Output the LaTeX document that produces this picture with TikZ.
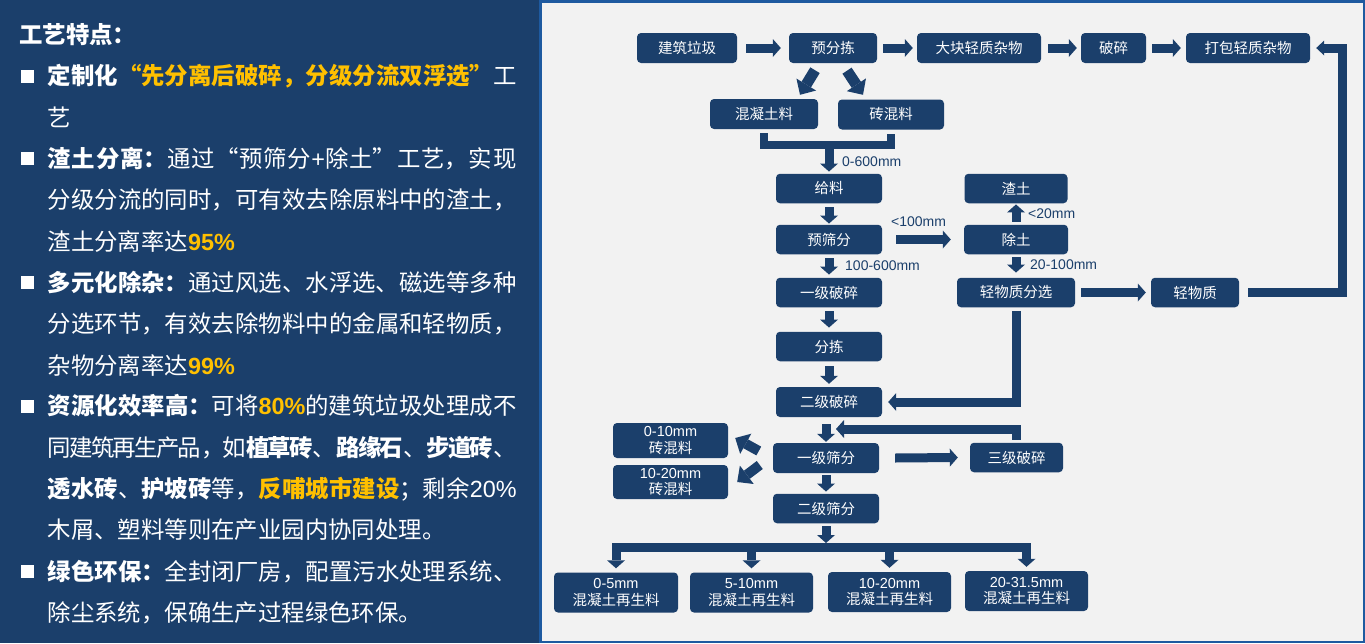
\documentclass[tikz,border=0pt]{standalone}
\usepackage{fontspec}
\setmainfont{Liberation Sans}
\newfontfamily\zh{Noto Sans CJK SC}
\usetikzlibrary{arrows.meta}
\definecolor{navy}{HTML}{1B3F6B}
\definecolor{panel}{HTML}{F2F2F2}
\definecolor{edge}{HTML}{1E5AA0}
\definecolor{gold}{HTML}{FFC000}
\newcommand\latn[1]{{\rmfamily #1}}
\XeTeXlinebreaklocale "zh"
\XeTeXlinebreakskip=0pt plus 4pt minus 2pt

\tikzset{
  box/.style={rectangle, rounded corners=4pt, fill=navy, text=white, inner sep=0pt,
    align=center, minimum height=29.5pt, font=\zh\fontsize{14.5}{16.5}\selectfont},
  lbl/.style={text=navy, inner sep=0pt, font=\fontsize{14}{16}\selectfont},
  para/.style={text=white, text width=469pt, align=justify, inner sep=0pt,
    anchor=base west, font=\zh\fontsize{23.4}{41.3}\selectfont},
  sq/.style={rectangle, fill=white, minimum size=13pt, inner sep=0pt},
  bar/.style={draw=navy, line width=9pt},
  blk/.style={bar, -{Triangle[length=8pt,width=18pt,line width=0pt]}},
  ret/.style={bar, -{Triangle[length=8pt,width=15pt,line width=0pt]}},
  dia/.style={draw=navy, line width=11pt, -{Triangle[length=12pt,width=23pt,line width=0pt]}}
}

\begin{document}
\begin{tikzpicture}[x=1pt,y=-1pt]
  \useasboundingbox (0,0) rectangle (1365,643);
  % panels
  \fill[navy] (0,0) rectangle (540,643);
  \filldraw[fill=panel, draw=edge, line width=2.5pt] (540.25,1.25) rectangle (1363.75,641.75);

  % left text
  \node[text=white, anchor=base west, inner sep=0pt, font=\zh\bfseries\fontsize{23.4}{28}\selectfont] (title) at (19,43.9) {工艺特点：};
  \node[sq] (b1) at (27.5,76) {};
  \node[sq] (b2) at (27.5,158.5) {};
  \node[sq] (b3) at (27.5,282.5) {};
  \node[sq] (b4) at (27.5,406) {};
  \node[sq] (b5) at (27.5,571) {};
  \node[para] (p1) at (47.5,84.9) {{\bfseries 定制化}{\color{gold}\bfseries “先分离后破碎，分级分流双浮选”}工\linebreak 艺};
  \node[para] (p2) at (47.5,167.5) {{\bfseries 渣土分离：}通过“预筛分\latn{+}除土”工艺，实现\linebreak 分级分流的同时，可有效去除原料中的渣土，\linebreak 渣土分离率达{\color{gold}\bfseries\latn{95\%}}};
  \node[para] (p3) at (47.5,291.4) {{\bfseries 多元化除杂：}通过风选、水浮选、磁选等多种\linebreak 分选环节，有效去除物料中的金属和轻物质，\linebreak 杂物分离率达{\color{gold}\bfseries\latn{99\%}}};
  \node[para] (p4) at (47.5,414.9) {{\bfseries 资源化效率高：}可将{\color{gold}\bfseries\latn{80\%}}的建筑垃圾处理成不\linebreak 同建筑再生产品，如{\bfseries 植草砖}、{\bfseries 路缘石}、{\bfseries 步道砖}、\linebreak {\bfseries 透水砖}、{\bfseries 护坡砖}等，{\color{gold}\bfseries 反哺城市建设}；剩余\latn{20\%}\linebreak 木屑、塑料等则在产业园内协同处理。};
  \node[para] (p5) at (47.5,580) {{\bfseries 绿色环保：}全封闭厂房，配置污水处理系统、\linebreak 除尘系统，保确生产过程绿色环保。};

  % top row
  \node[box, minimum width=100pt, minimum height=30pt] (laji) at (687,48) {建筑垃圾};
  \node[box, minimum width=88pt, minimum height=30pt] (yufen) at (833,48) {预分拣};
  \node[box, minimum width=124pt, minimum height=30pt] (dakuai) at (979,48) {大块轻质杂物};
  \node[box, minimum width=65pt, minimum height=30pt] (posui) at (1113.5,48) {破碎};
  \node[box, minimum width=124pt, minimum height=30pt] (dabao) at (1248,48) {打包轻质杂物};
  \node[box, minimum width=108pt, minimum height=30pt] (hun) at (764,114) {混凝土料};
  \node[box, minimum width=106pt, minimum height=30pt] (zhuan) at (891,114.5) {砖混料};

  % main line
  \node[box, minimum width=106pt] (geiliao) at (829,188.5) {给料};
  \node[box, minimum width=106pt] (yushai) at (829,239.5) {预筛分};
  \node[box, minimum width=106pt] (yiji) at (829,292.5) {一级破碎};
  \node[box, minimum width=106pt] (fenjian) at (829,346.5) {分拣};
  \node[box, minimum width=106pt, minimum height=30pt] (erji) at (829,402) {二级破碎};
  \node[box, minimum width=106pt, minimum height=30pt] (yishai) at (826,458) {一级筛分};
  \node[box, minimum width=106pt] (ershai) at (826,508.5) {二级筛分};

  % side branch
  \node[box, minimum width=103pt] (zhatu) at (1016,188.5) {渣土};
  \node[box, minimum width=104pt] (chutu) at (1016,239.5) {除土};
  \node[box, minimum width=118pt] (qingfen) at (1016,292.5) {轻物质分选};
  \node[box, minimum width=88pt] (qingwu) at (1195,292.5) {轻物质};
  \node[box, minimum width=93pt] (sanji) at (1016.5,457.5) {三级破碎};
  \node[box, minimum width=115pt, minimum height=35pt] (s1) at (670.5,440.5) {\latn{0-10mm}\\砖混料};
  \node[box, minimum width=115pt, minimum height=34pt] (s2) at (670.5,482) {\latn{10-20mm}\\砖混料};

  % products
  \node[box, minimum width=124pt, minimum height=40pt] (c1) at (616,592.5) {\latn{0-5mm}\\混凝土再生料};
  \node[box, minimum width=123pt, minimum height=40pt] (c2) at (751.5,592.5) {\latn{5-10mm}\\混凝土再生料};
  \node[box, minimum width=123pt, minimum height=40pt] (c3) at (889.5,592) {\latn{10-20mm}\\混凝土再生料};
  \node[box, minimum width=123pt, minimum height=40pt] (c4) at (1026.5,591) {\latn{20-31.5mm}\\混凝土再生料};

  % labels
  \node[lbl, anchor=west] (l600) at (842,162) {0-600mm};
  \node[lbl] (l100) at (918.5,222) {<100mm};
  \node[lbl, anchor=west] (l20) at (1028,214) {<20mm};
  \node[lbl, anchor=west] (l20100) at (1030,265) {20-100mm};
  \node[lbl, anchor=west] (l100600) at (845,266) {100-600mm};

  % arrows, top row
  \draw[blk] ([xshift=9pt]laji.east) -- ([xshift=-8pt]yufen.west);
  \draw[blk] ([xshift=6pt]yufen.east) -- ([xshift=-4pt]dakuai.west);
  \draw[blk] ([xshift=7pt]dakuai.east) -- ([xshift=-4pt]posui.west);
  \draw[blk] ([xshift=6pt]posui.east) -- ([xshift=-5pt]dabao.west);
  \draw[dia] ([xshift=-18pt,yshift=-7pt]yufen.south) -- ([xshift=36pt,yshift=4pt]hun.north);
  \draw[dia] ([xshift=14pt,yshift=-7.5pt]yufen.south) -- ([xshift=-28pt,yshift=4.5pt]zhuan.north);

  % merge to feed
  \coordinate (merge) at (829,145);
  \draw[bar, line width=8pt] ([yshift=-4pt]hun.south) |- (merge) -| ([yshift=-4pt]zhuan.south);
  \draw[blk] (merge) -- ([yshift=2pt]geiliao.north);
  \draw[blk] ([yshift=-4pt]geiliao.south) -- ([yshift=1pt]yushai.north);
  \draw[blk] ([yshift=-4pt]yushai.south) -- ([yshift=3pt]yiji.north);
  \draw[blk] ([yshift=-4pt]yiji.south) -- ([yshift=4pt]fenjian.north);
  \draw[blk] ([yshift=-5pt]fenjian.south) -- ([yshift=3pt]erji.north);
  \draw[blk, shorten <=7pt, shorten >=1pt] (erji.south -| yishai.north) -- (yishai.north);
  \draw[blk] ([yshift=-2pt]yishai.south) -- ([yshift=2pt]ershai.north);

  % soil and light material
  \draw[blk] ([xshift=14pt]yushai.east) -- ([xshift=-13pt]chutu.west);
  \draw[blk] ([yshift=3pt]chutu.north) -- ([yshift=-1pt]zhatu.south);
  \draw[blk] ([yshift=-3pt]chutu.south) -- ([yshift=5pt]qingfen.north);
  \draw[blk] ([xshift=6pt]qingfen.east) -- ([xshift=-5pt]qingwu.west);
  \coordinate (turn) at (1342,292.5);
  \draw[ret] ([xshift=9pt]qingwu.east) -- (turn) |- ([xshift=6pt]dabao.east);
  \draw[blk] ([yshift=-4pt]qingfen.south) |- ([xshift=6pt]erji.east);

  % screening
  \draw[blk] ([xshift=16pt]yishai.east) -- ([xshift=-12pt]sanji.west);
  \coordinate (back) at (836,429);
  \draw[blk] ([yshift=3pt]sanji.north) |- (back);
  \draw[dia, line width=10pt] ([xshift=-14pt,yshift=7pt]yishai.west) -- ([xshift=7pt,yshift=2.5pt]s1.east);
  \draw[dia, line width=10pt] ([xshift=-13pt,yshift=-7pt]yishai.west) -- ([xshift=9pt]s2.east);

  % split to products
  \coordinate (split) at (826,547.5);
  \draw[blk] ([yshift=-3pt]ershai.south) -- ([yshift=4.5pt]split);
  \draw[blk] (split) -| ([yshift=4pt]c1.north);
  \draw[blk] (split) -| ([yshift=4pt]c4.north);
  \draw[blk] (split -| c2) -- ([yshift=4pt]c2.north);
  \draw[blk] (split -| c3) -- ([yshift=4pt]c3.north);
\end{tikzpicture}
\end{document}
